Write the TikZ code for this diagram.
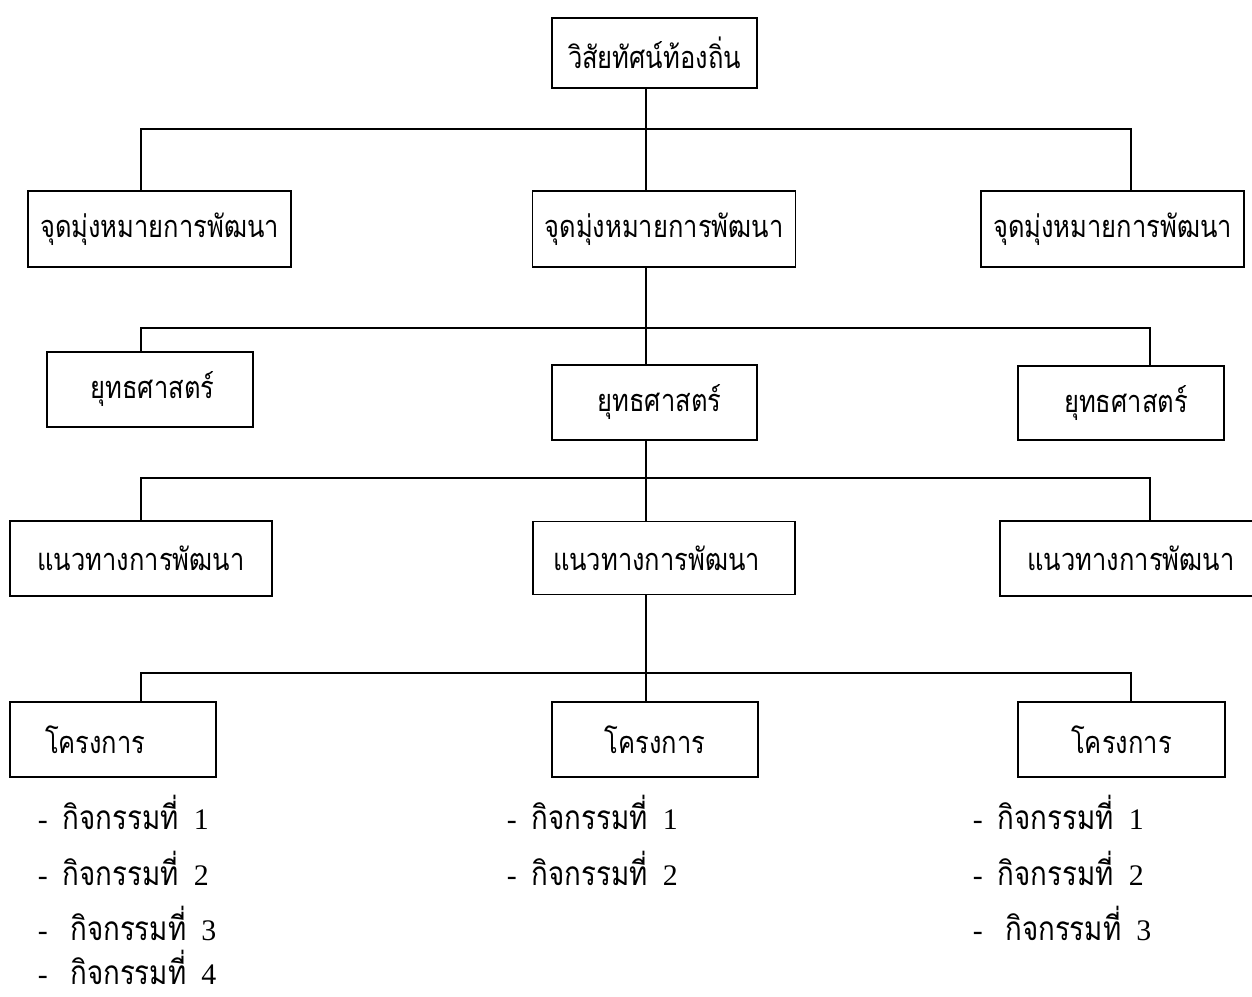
\documentclass[tikz,border=0pt]{standalone}
\usepackage{fontspec}
\setmainfont{Liberation Serif}
\newfontfamily\thaifont[Script=Thai, FakeStretch=0.83]{Loma}

\tikzset{blk/.style = {draw, line width = 1.1pt, inner sep = 0pt, font = \thaifont\fontsize{17.5}{19}\selectfont},
         act/.style = {anchor = base west, inner sep = 0pt, font = \fontsize{17}{19}\selectfont}}

\begin{document}
\begin{tikzpicture}[x = .02cm, y = -.02cm, line width = 1.1pt]
\useasboundingbox (0,0) rectangle (1252,997);
\node[blk, minimum width = 4.1cm, minimum height = 1.4cm] (vision) at (654.5,53) {วิสัยทัศน์ท้องถิ่น};
\node[blk, minimum width = 5.26cm, minimum height = 1.52cm] (goalL) at (159.5,229) {จุดมุ่งหมายการพัฒนา};
\node[blk, minimum width = 5.26cm, minimum height = 1.52cm] (goalM) at (664,229) {จุดมุ่งหมายการพัฒนา};
\node[blk, minimum width = 5.26cm, minimum height = 1.52cm] (goalR) at (1112.5,229) {จุดมุ่งหมายการพัฒนา};
\node[blk, minimum width = 4.12cm, minimum height = 1.5cm] (stratL) at (150,389.5) {\hspace*{.1cm}ยุทธศาสตร์};
\node[blk, minimum width = 4.1cm, minimum height = 1.5cm] (stratM) at (654.5,402.5) {\hspace*{.2cm}ยุทธศาสตร์};
\node[blk, minimum width = 4.12cm, minimum height = 1.48cm] (stratR) at (1121,403) {\hspace*{.2cm}ยุทธศาสตร์};
\node[blk, minimum width = 5.24cm, minimum height = 1.5cm] (wayL) at (141,558.5) {แนวทางการพัฒนา};
\node[blk, minimum width = 5.24cm, minimum height = 1.46cm] (wayM) at (664,558) {\hspace*{-.3cm}แนวทางการพัฒนา};
\node[blk, minimum width = 5.24cm, minimum height = 1.5cm] (wayR) at (1131,558.5) {แนวทางการพัฒนา};
\node[blk, minimum width = 4.12cm, minimum height = 1.5cm, inner xsep = .7cm, text width = 2.72cm, align = left] (projL) at (113,739.5) {โครงการ};
\node[blk, minimum width = 4.12cm, minimum height = 1.5cm] (projM) at (655,739.5) {โครงการ};
\node[blk, minimum width = 4.14cm, minimum height = 1.5cm] (projR) at (1121.5,739.5) {โครงการ};

% bars between the levels
\coordinate (b1l) at (141,129); \coordinate (b1m) at (646,129); \coordinate (b1r) at (1131,129);
\coordinate (b2l) at (141,328); \coordinate (b2m) at (646,328); \coordinate (b2r) at (1150,328);
\coordinate (b3l) at (141,478); \coordinate (b3m) at (646,478); \coordinate (b3r) at (1150,478);
\coordinate (b4l) at (141,673); \coordinate (b4m) at (646,673); \coordinate (b4r) at (1131,673);

\draw (vision.south -| b1m) - - (b1m |- goalM.north);
\draw (b1l |- goalL.north) - - (b1l) - - (b1r) - - (b1r |- goalR.north);
\draw (goalM.south -| b2m) - - (b2m |- stratM.north);
\draw (b2l |- stratL.north) - - (b2l) - - (b2r) - - (b2r |- stratR.north);
\draw (stratM.south -| b3m) - - (b3m |- wayM.north);
\draw (b3l |- wayL.north) - - (b3l) - - (b3r) - - (b3r |- wayR.north);
\draw (wayM.south -| b4m) - - (b4m |- projM.north);
\draw (b4l |- projL.north) - - (b4l) - - (b4r) - - (b4r |- projR.north);

% activities
\node[act] (actL1) at (37,829) {-\ \ {\thaifont\fontsize{19}{21}\selectfont กิจกรรมที่}\hspace{.5em}1};
\node[act] (actL2) at (37,885) {-\ \ {\thaifont\fontsize{19}{21}\selectfont กิจกรรมที่}\hspace{.5em}2};
\node[act] (actL3) at (37,940) {-\ \ \ {\thaifont\fontsize{19}{21}\selectfont กิจกรรมที่}\hspace{.5em}3};
\node[act] (actL4) at (37,984) {-\ \ \ {\thaifont\fontsize{19}{21}\selectfont กิจกรรมที่}\hspace{.5em}4};
\node[act] (actM1) at (506,829) {-\ \ {\thaifont\fontsize{19}{21}\selectfont กิจกรรมที่}\hspace{.5em}1};
\node[act] (actM2) at (506,885) {-\ \ {\thaifont\fontsize{19}{21}\selectfont กิจกรรมที่}\hspace{.5em}2};
\node[act] (actR1) at (972,829) {-\ \ {\thaifont\fontsize{19}{21}\selectfont กิจกรรมที่}\hspace{.5em}1};
\node[act] (actR2) at (972,885) {-\ \ {\thaifont\fontsize{19}{21}\selectfont กิจกรรมที่}\hspace{.5em}2};
\node[act] (actR3) at (972,940) {-\ \ \ {\thaifont\fontsize{19}{21}\selectfont กิจกรรมที่}\hspace{.5em}3};
\end{tikzpicture}
\end{document}
